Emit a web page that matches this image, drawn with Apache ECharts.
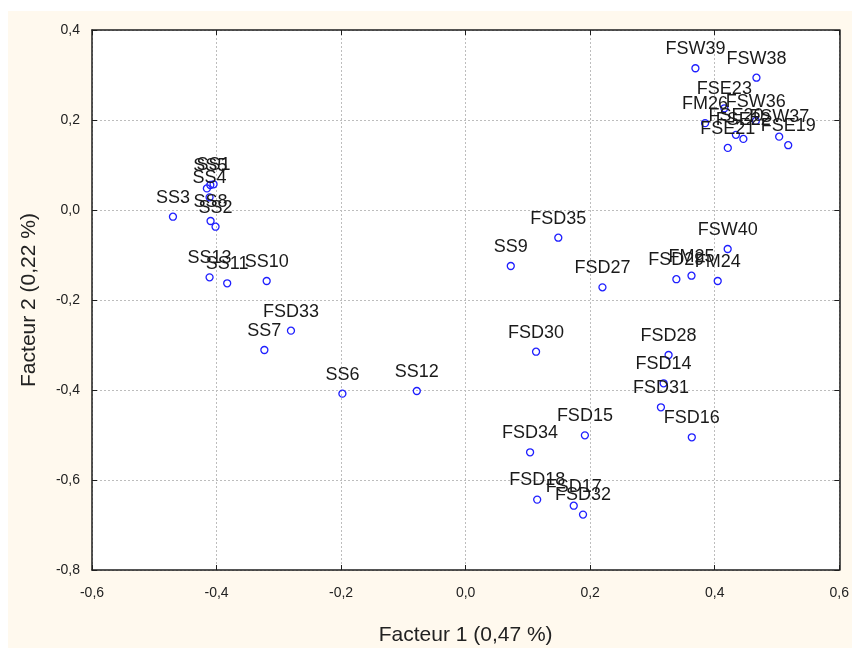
<!DOCTYPE html>
<html>
<head>
<meta charset="utf-8">
<script src="https://cdn.jsdelivr.net/npm/echarts@6/dist/echarts.min.js"></script>
<style>
html,body{margin:0;padding:0;background:#fff;}
#chart{width:852px;height:651px;}
</style>
</head>
<body>
<div id="chart"></div>
<script>
// Sample names and factor coordinates
const names = [
  'FSW39','FSW38','FSE23','FM26','FSW36','FSE20','FSE22','FSW37','FSE19','FSE21',
  'SS1','SS5','','SS4','SS3','SS8','SS2','SS13','SS11','SS10',
  'FSD33','SS7','SS6','SS12','SS9','FSD35','FSD27','FSD29','FM25','FM24',
  'FSW40','FSD30','FSD28','FSD14','FSD31','FSD16','FSD15','FSD34','FSD18','FSD17','FSD32'
];
const factor1 = [
  0.369, 0.467, 0.4155, 0.3845, 0.466, 0.434, 0.446, 0.5035, 0.518, 0.421,
  -0.4048, -0.410, -0.4155, -0.4112, -0.470, -0.4096, -0.4016, -0.4112, -0.3829, -0.3195,
  -0.2805, -0.3232, -0.1979, -0.0784, 0.0725, 0.1488, 0.2197, 0.3384, 0.3627, 0.4048,
  0.4208, 0.1131, 0.3259, 0.3179, 0.3136, 0.3632, 0.1915, 0.1035, 0.1149, 0.1736, 0.1885
];
const factor2 = [
  0.315, 0.294, 0.226, 0.193, 0.198, 0.167, 0.158, 0.163, 0.144, 0.138,
  0.0571, 0.0556, 0.048, 0.0282, -0.0149, -0.0244, -0.0371, -0.1496, -0.1629, -0.1578,
  -0.2682, -0.3111, -0.4082, -0.4022, -0.1244, -0.0616, -0.1718, -0.1538, -0.146, -0.1578,
  -0.0867, -0.3149, -0.3222, -0.3851, -0.4384, -0.5051, -0.5007, -0.5384, -0.6436, -0.6571, -0.6769
];
const xTickValues = [-0.6, -0.4, -0.2, 0.0, 0.2, 0.4, 0.6];
const xTickLabels = ['-0,6', '-0,4', '-0,2', '0,0', '0,2', '0,4', '0,6'];
const yTickValues = [-0.8, -0.6, -0.4, -0.2, 0.0, 0.2, 0.4];
const yTickLabels = ['-0,8', '-0,6', '-0,4', '-0,2', '0,0', '0,2', '0,4'];
const xName = 'Facteur 1 (0,47 %)';
const yName = 'Facteur 2 (0,22 %)';

function tickLabel(values, labels) {
  return function (v) {
    for (let i = 0; i < values.length; i++) {
      if (Math.abs(values[i] - v) < 1e-6) return labels[i];
    }
    return '';
  };
}

const data = names.map((n, i) => [factor1[i], factor2[i], n]);
const FONT = '"Liberation Sans", Arial, sans-serif';
const axisLineStyle = { color: '#1e1e1e', width: 1.5 };
const splitLineStyle = { color: '#bdbdbd', type: [2, 2], width: 1 };

const chart = echarts.init(document.getElementById('chart'), null, { renderer: 'canvas' });
chart.setOption({
  backgroundColor: '#fff9ee',
  animation: false,
  graphic: [
    { type: 'rect', shape: { x: 0, y: 0, width: 852, height: 11 }, style: { fill: '#ffffff' }, silent: true },
    { type: 'rect', shape: { x: 0, y: 0, width: 8, height: 651 }, style: { fill: '#ffffff' }, silent: true },
    { type: 'rect', shape: { x: 0, y: 648, width: 852, height: 3 }, style: { fill: '#ffffff' }, silent: true }
  ],
  grid: { left: 92, right: 9, top: 30, bottom: 81, show: true, backgroundColor: '#ffffff', borderWidth: 0 },
  xAxis: [
    {
      type: 'value', min: -0.6, max: 0.6, interval: 0.2, position: 'bottom',
      name: xName, nameLocation: 'middle', nameGap: 55,
      nameTextStyle: { fontFamily: FONT, fontSize: 21, color: '#222' },
      axisLine: { show: true, onZero: false, lineStyle: axisLineStyle },
      axisTick: { show: true, inside: true, length: 5, lineStyle: { color: '#1e1e1e' } },
      axisLabel: { formatter: tickLabel(xTickValues, xTickLabels), margin: 16, fontFamily: FONT, fontSize: 14, color: '#222' },
      splitLine: { show: true, lineStyle: splitLineStyle }
    },
    {
      type: 'value', min: -0.6, max: 0.6, interval: 0.2, position: 'top',
      axisLine: { show: true, onZero: false, lineStyle: axisLineStyle },
      axisTick: { show: true, inside: true, length: 5, lineStyle: { color: '#1e1e1e' } },
      axisLabel: { show: false }, splitLine: { show: false }
    }
  ],
  yAxis: [
    {
      type: 'value', min: -0.8, max: 0.4, interval: 0.2, position: 'left',
      name: yName, nameLocation: 'middle', nameGap: 52,
      nameTextStyle: { fontFamily: FONT, fontSize: 21, color: '#222' },
      axisLine: { show: true, onZero: false, lineStyle: axisLineStyle },
      axisTick: { show: true, inside: true, length: 5, lineStyle: { color: '#1e1e1e' } },
      axisLabel: { formatter: tickLabel(yTickValues, yTickLabels), margin: 12, fontFamily: FONT, fontSize: 14, color: '#222' },
      splitLine: { show: true, lineStyle: splitLineStyle }
    },
    {
      type: 'value', min: -0.8, max: 0.4, interval: 0.2, position: 'right',
      axisLine: { show: true, onZero: false, lineStyle: axisLineStyle },
      axisTick: { show: true, inside: true, length: 5, lineStyle: { color: '#1e1e1e' } },
      axisLabel: { show: false }, splitLine: { show: false }
    }
  ],
  series: [{
    type: 'scatter',
    xAxisIndex: 0, yAxisIndex: 0,
    data: data,
    symbol: 'circle',
    symbolSize: 7,
    itemStyle: { color: 'rgba(0,0,0,0)', borderColor: '#1f1fff', borderWidth: 1.3, opacity: 1 },
    label: {
      show: true, position: 'top', distance: 6,
      formatter: p => p.data[2],
      fontFamily: FONT, fontSize: 18, color: '#1a1a1a'
    },
    emphasis: { disabled: true }
  }]
});
</script>
</body>
</html>
